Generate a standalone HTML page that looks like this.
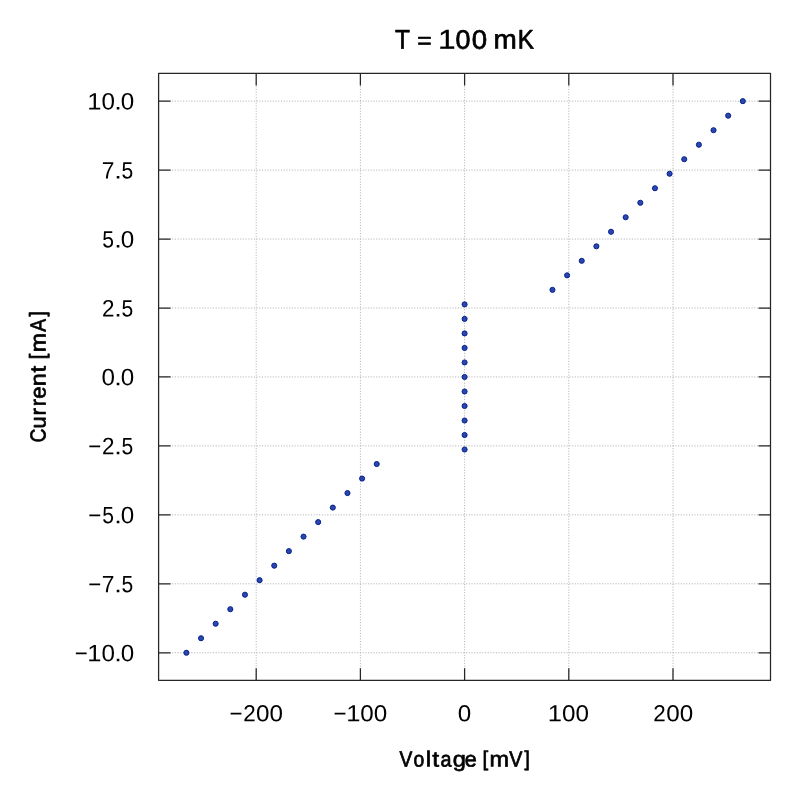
<!DOCTYPE html>
<html><head><meta charset="utf-8"><style>
html,body{margin:0;padding:0;background:#fff;}
svg{display:block;will-change:transform;}
text{font-family:"Liberation Sans",sans-serif;text-rendering:geometricPrecision;}
</style></head><body>
<svg width="800" height="801" viewBox="0 0 800 801">
<rect width="800" height="801" fill="#fff"/>
<g stroke="#acacac" stroke-width="0.9" stroke-dasharray="1.1 1.62"><line x1="158.60" y1="652.75" x2="770.50" y2="652.75"/><line x1="158.60" y1="583.80" x2="770.50" y2="583.80"/><line x1="158.60" y1="514.85" x2="770.50" y2="514.85"/><line x1="158.60" y1="445.90" x2="770.50" y2="445.90"/><line x1="158.60" y1="376.95" x2="770.50" y2="376.95"/><line x1="158.60" y1="308.00" x2="770.50" y2="308.00"/><line x1="158.60" y1="239.05" x2="770.50" y2="239.05"/><line x1="158.60" y1="170.10" x2="770.50" y2="170.10"/><line x1="158.60" y1="101.15" x2="770.50" y2="101.15"/><line x1="256.20" y1="680.25" x2="256.20" y2="73.45"/><line x1="360.40" y1="680.25" x2="360.40" y2="73.45"/><line x1="464.60" y1="680.25" x2="464.60" y2="73.45"/><line x1="568.80" y1="680.25" x2="568.80" y2="73.45"/><line x1="673.00" y1="680.25" x2="673.00" y2="73.45"/></g>
<g fill="#2b47ad" stroke="#07228f" stroke-width="1.0"><circle cx="186.39" cy="652.75" r="2.55"/><circle cx="201.03" cy="638.23" r="2.55"/><circle cx="215.67" cy="623.72" r="2.55"/><circle cx="230.31" cy="609.20" r="2.55"/><circle cx="244.96" cy="594.69" r="2.55"/><circle cx="259.60" cy="580.17" r="2.55"/><circle cx="274.24" cy="565.66" r="2.55"/><circle cx="288.89" cy="551.14" r="2.55"/><circle cx="303.53" cy="536.62" r="2.55"/><circle cx="318.17" cy="522.11" r="2.55"/><circle cx="332.81" cy="507.59" r="2.55"/><circle cx="347.46" cy="493.08" r="2.55"/><circle cx="362.10" cy="478.56" r="2.55"/><circle cx="376.74" cy="464.04" r="2.55"/><circle cx="464.60" cy="449.53" r="2.55"/><circle cx="464.60" cy="435.01" r="2.55"/><circle cx="464.60" cy="420.50" r="2.55"/><circle cx="464.60" cy="405.98" r="2.55"/><circle cx="464.60" cy="391.47" r="2.55"/><circle cx="464.60" cy="376.95" r="2.55"/><circle cx="464.60" cy="362.43" r="2.55"/><circle cx="464.60" cy="347.92" r="2.55"/><circle cx="464.60" cy="333.40" r="2.55"/><circle cx="464.60" cy="318.89" r="2.55"/><circle cx="464.60" cy="304.37" r="2.55"/><circle cx="552.46" cy="289.86" r="2.55"/><circle cx="567.10" cy="275.34" r="2.55"/><circle cx="581.74" cy="260.82" r="2.55"/><circle cx="596.39" cy="246.31" r="2.55"/><circle cx="611.03" cy="231.79" r="2.55"/><circle cx="625.67" cy="217.28" r="2.55"/><circle cx="640.31" cy="202.76" r="2.55"/><circle cx="654.96" cy="188.24" r="2.55"/><circle cx="669.60" cy="173.73" r="2.55"/><circle cx="684.24" cy="159.21" r="2.55"/><circle cx="698.89" cy="144.70" r="2.55"/><circle cx="713.53" cy="130.18" r="2.55"/><circle cx="728.17" cy="115.67" r="2.55"/><circle cx="742.81" cy="101.15" r="2.55"/></g>
<path d="M158.60,652.75h12M770.50,652.75h-12M158.60,583.80h12M770.50,583.80h-12M158.60,514.85h12M770.50,514.85h-12M158.60,445.90h12M770.50,445.90h-12M158.60,376.95h12M770.50,376.95h-12M158.60,308.00h12M770.50,308.00h-12M158.60,239.05h12M770.50,239.05h-12M158.60,170.10h12M770.50,170.10h-12M158.60,101.15h12M770.50,101.15h-12M256.20,680.25v-12M256.20,73.45v12M360.40,680.25v-12M360.40,73.45v12M464.60,680.25v-12M464.60,73.45v12M568.80,680.25v-12M568.80,73.45v12M673.00,680.25v-12M673.00,73.45v12" stroke="#262626" stroke-width="1.25" fill="none"/>
<rect x="158.60" y="73.45" width="611.90" height="606.80" fill="none" stroke="#262626" stroke-width="1.25" stroke-linejoin="round"/>
<g fill="#000" font-family="Liberation Sans" font-size="100"><text transform="translate(87.231,109.561) skewY(0.2) scale(0.25581,0.23873)">1</text><text transform="translate(101.382,109.561) skewY(0.2) scale(0.24211,0.23873)">0</text><text transform="translate(114.137,109.561) skewY(0.2) scale(0.27368,0.23873)">.</text><text transform="translate(120.682,109.561) skewY(0.2) scale(0.24211,0.23873)">0</text><text transform="translate(101.757,178.511) skewY(0.2) scale(0.22857,0.23873)">7</text><text transform="translate(114.137,178.511) skewY(0.2) scale(0.27368,0.23873)">.</text><text transform="translate(121.558,178.511) skewY(0.2) scale(0.21053,0.23873)">5</text><text transform="translate(102.258,247.461) skewY(0.2) scale(0.21053,0.23873)">5</text><text transform="translate(114.137,247.461) skewY(0.2) scale(0.27368,0.23873)">.</text><text transform="translate(120.682,247.461) skewY(0.2) scale(0.24211,0.23873)">0</text><text transform="translate(101.879,316.411) skewY(0.2) scale(0.22418,0.23873)">2</text><text transform="translate(114.137,316.411) skewY(0.2) scale(0.27368,0.23873)">.</text><text transform="translate(121.558,316.411) skewY(0.2) scale(0.21053,0.23873)">5</text><text transform="translate(101.382,385.361) skewY(0.2) scale(0.24211,0.23873)">0</text><text transform="translate(114.137,385.361) skewY(0.2) scale(0.27368,0.23873)">.</text><text transform="translate(120.682,385.361) skewY(0.2) scale(0.24211,0.23873)">0</text><text transform="translate(88.137,454.311) skewY(0.2) scale(0.22268,0.23873)">−</text><text transform="translate(101.879,454.311) skewY(0.2) scale(0.22418,0.23873)">2</text><text transform="translate(114.137,454.311) skewY(0.2) scale(0.27368,0.23873)">.</text><text transform="translate(121.558,454.311) skewY(0.2) scale(0.21053,0.23873)">5</text><text transform="translate(88.137,523.261) skewY(0.2) scale(0.22268,0.23873)">−</text><text transform="translate(102.258,523.261) skewY(0.2) scale(0.21053,0.23873)">5</text><text transform="translate(114.137,523.261) skewY(0.2) scale(0.27368,0.23873)">.</text><text transform="translate(120.682,523.261) skewY(0.2) scale(0.24211,0.23873)">0</text><text transform="translate(88.137,592.211) skewY(0.2) scale(0.22268,0.23873)">−</text><text transform="translate(101.757,592.211) skewY(0.2) scale(0.22857,0.23873)">7</text><text transform="translate(114.137,592.211) skewY(0.2) scale(0.27368,0.23873)">.</text><text transform="translate(121.558,592.211) skewY(0.2) scale(0.21053,0.23873)">5</text><text transform="translate(74.687,661.161) skewY(0.2) scale(0.22268,0.23873)">−</text><text transform="translate(87.231,661.161) skewY(0.2) scale(0.25581,0.23873)">1</text><text transform="translate(101.382,661.161) skewY(0.2) scale(0.24211,0.23873)">0</text><text transform="translate(114.137,661.161) skewY(0.2) scale(0.27368,0.23873)">.</text><text transform="translate(120.682,661.161) skewY(0.2) scale(0.24211,0.23873)">0</text><text transform="translate(229.412,721.369) skewY(0.2) scale(0.22268,0.23099)">−</text><text transform="translate(243.154,721.369) skewY(0.2) scale(0.22418,0.23099)">2</text><text transform="translate(256.107,721.369) skewY(0.2) scale(0.24211,0.23099)">0</text><text transform="translate(269.557,721.369) skewY(0.2) scale(0.24211,0.23099)">0</text><text transform="translate(333.612,721.369) skewY(0.2) scale(0.22268,0.23099)">−</text><text transform="translate(346.156,721.369) skewY(0.2) scale(0.25581,0.23099)">1</text><text transform="translate(360.307,721.369) skewY(0.2) scale(0.24211,0.23099)">0</text><text transform="translate(373.757,721.369) skewY(0.2) scale(0.24211,0.23099)">0</text><text transform="translate(457.782,721.369) skewY(0.2) scale(0.24211,0.23099)">0</text><text transform="translate(547.831,721.369) skewY(0.2) scale(0.25581,0.23099)">1</text><text transform="translate(561.982,721.369) skewY(0.2) scale(0.24211,0.23099)">0</text><text transform="translate(575.432,721.369) skewY(0.2) scale(0.24211,0.23099)">0</text><text transform="translate(653.229,721.369) skewY(0.2) scale(0.22418,0.23099)">2</text><text transform="translate(666.182,721.369) skewY(0.2) scale(0.24211,0.23099)">0</text><text transform="translate(679.632,721.369) skewY(0.2) scale(0.24211,0.23099)">0</text></g>
<g fill="#000" font-family="Liberation Sans" font-size="100"><text transform="translate(394.939,48.500) skewY(0.2) scale(0.24425,0.26884)" stroke="#000" stroke-width="2.732" stroke-linejoin="round">T</text><text transform="translate(417.213,48.228) skewY(0.2) scale(0.24742,0.22812)" stroke="#000" stroke-width="2.946" stroke-linejoin="round">=</text><text transform="translate(437.878,48.700) skewY(0.2) scale(0.31628,0.27464)" stroke="#000" stroke-width="1.018" stroke-linejoin="round">1</text><text transform="translate(455.522,48.632) skewY(0.2) scale(0.26947,0.26831)" stroke="#000" stroke-width="2.603" stroke-linejoin="round">0</text><text transform="translate(471.643,48.632) skewY(0.2) scale(0.27684,0.26831)" stroke="#000" stroke-width="2.568" stroke-linejoin="round">0</text><text transform="translate(493.535,48.500) skewY(0.2) scale(0.27929,0.26884)" stroke="#000" stroke-width="2.555" stroke-linejoin="round">m</text><text transform="translate(517.816,48.500) skewY(0.2) scale(0.24174,0.26884)" stroke="#000" stroke-width="2.746" stroke-linejoin="round">K</text><text transform="translate(399.554,766.450) skewY(0.2) scale(0.19237,0.21884)" stroke="#000" stroke-width="3.412" stroke-linejoin="round">V</text><text transform="translate(413.475,766.450) skewY(0.2) scale(0.19368,0.21884)" stroke="#000" stroke-width="3.400" stroke-linejoin="round">o</text><text transform="translate(425.761,766.450) skewY(0.2) scale(0.24444,0.21884)" stroke="#000" stroke-width="3.027" stroke-linejoin="round">l</text><text transform="translate(432.279,766.450) skewY(0.2) scale(0.24706,0.21884)" stroke="#000" stroke-width="3.010" stroke-linejoin="round">t</text><text transform="translate(440.463,766.450) skewY(0.2) scale(0.19706,0.21884)" stroke="#000" stroke-width="3.371" stroke-linejoin="round">a</text><text transform="translate(452.653,766.450) skewY(0.2) scale(0.23667,0.21884)" stroke="#000" stroke-width="3.076" stroke-linejoin="round">g</text><text transform="translate(464.627,766.450) skewY(0.2) scale(0.21613,0.21884)" stroke="#000" stroke-width="3.219" stroke-linejoin="round">e</text><text transform="translate(482.515,765.625) skewY(0.2) scale(0.20500,0.21070)" stroke="#000" stroke-width="3.368" stroke-linejoin="round">[</text><text transform="translate(489.427,766.450) skewY(0.2) scale(0.23429,0.21884)" stroke="#000" stroke-width="3.091" stroke-linejoin="round">m</text><text transform="translate(509.252,766.450) skewY(0.2) scale(0.19695,0.21884)" stroke="#000" stroke-width="3.372" stroke-linejoin="round">V</text><text transform="translate(524.460,765.625) skewY(0.2) scale(0.18974,0.21070)" stroke="#000" stroke-width="3.501" stroke-linejoin="round">]</text><text transform="translate(45.500,442.410) rotate(-90) skewY(0.2) scale(0.19206,0.21812)" stroke="#000" stroke-width="3.420" stroke-linejoin="round">C</text><text transform="translate(45.500,428.557) rotate(-90) skewY(0.2) scale(0.21647,0.21812)" stroke="#000" stroke-width="3.221" stroke-linejoin="round">u</text><text transform="translate(45.500,415.406) rotate(-90) skewY(0.2) scale(0.22400,0.21812)" stroke="#000" stroke-width="3.167" stroke-linejoin="round">r</text><text transform="translate(45.500,406.254) rotate(-90) skewY(0.2) scale(0.21600,0.21812)" stroke="#000" stroke-width="3.225" stroke-linejoin="round">r</text><text transform="translate(45.500,398.647) rotate(-90) skewY(0.2) scale(0.22151,0.21812)" stroke="#000" stroke-width="3.185" stroke-linejoin="round">e</text><text transform="translate(45.500,386.164) rotate(-90) skewY(0.2) scale(0.23294,0.21812)" stroke="#000" stroke-width="3.105" stroke-linejoin="round">n</text><text transform="translate(45.500,372.609) rotate(-90) skewY(0.2) scale(0.23922,0.21812)" stroke="#000" stroke-width="3.064" stroke-linejoin="round">t</text><text transform="translate(44.668,359.150) rotate(-90) skewY(0.2) scale(0.20000,0.21818)" stroke="#000" stroke-width="3.351" stroke-linejoin="round">[</text><text transform="translate(45.500,352.145) rotate(-90) skewY(0.2) scale(0.23000,0.21812)" stroke="#000" stroke-width="3.125" stroke-linejoin="round">m</text><text transform="translate(45.500,331.746) rotate(-90) skewY(0.2) scale(0.19242,0.21812)" stroke="#000" stroke-width="3.417" stroke-linejoin="round">A</text><text transform="translate(44.668,316.535) rotate(-90) skewY(0.2) scale(0.18462,0.21818)" stroke="#000" stroke-width="3.488" stroke-linejoin="round">]</text></g>
</svg>
</body></html>
